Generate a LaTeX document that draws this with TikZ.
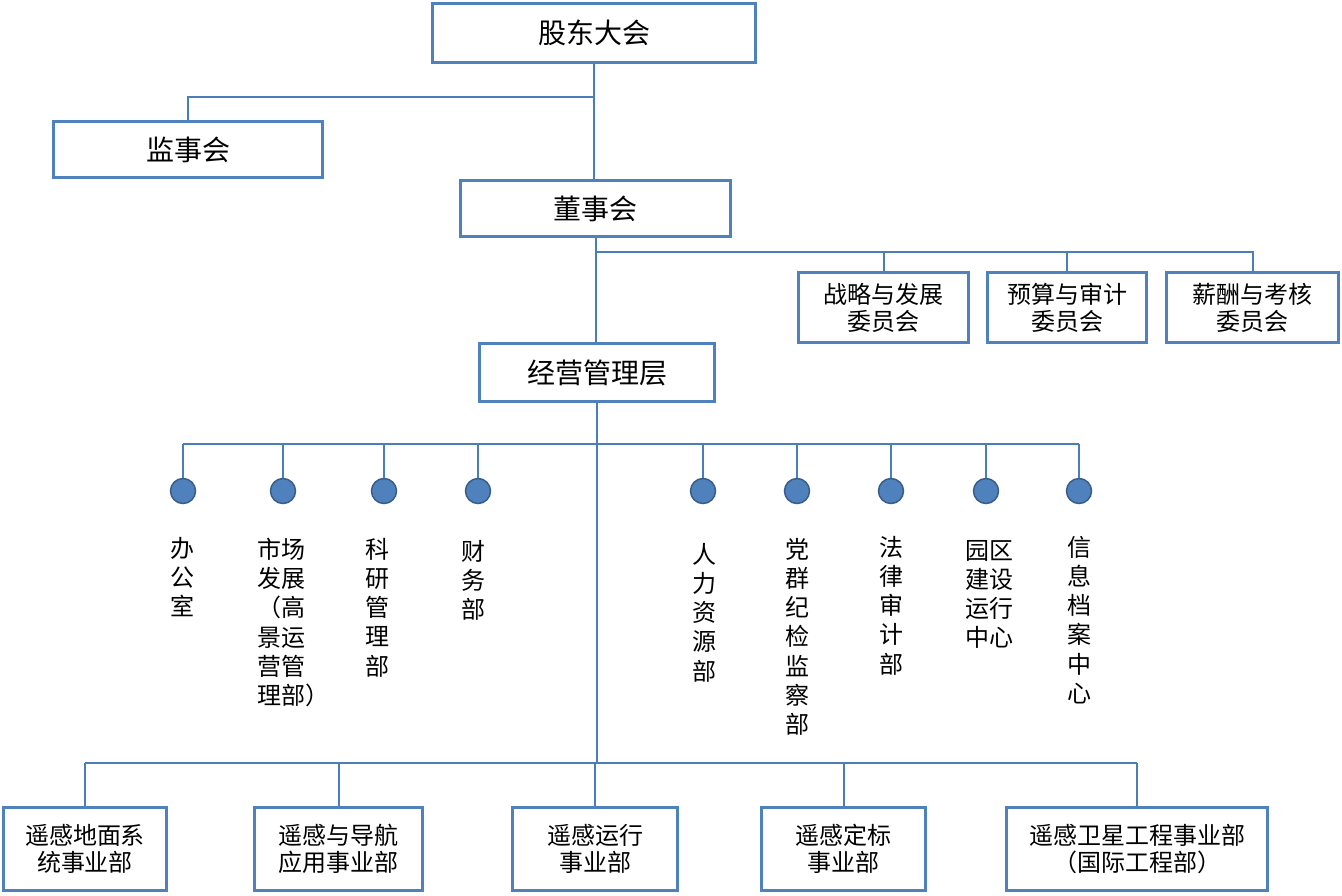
\documentclass[tikz,border=0pt]{standalone}
\usepackage{fontspec}
\setmainfont{Noto Sans CJK SC}
\definecolor{boxblue}{RGB}{79,129,189}
\definecolor{lineblue}{RGB}{74,126,187}
\definecolor{dotblue}{RGB}{79,129,189}
\definecolor{dotedge}{RGB}{56,93,138}
\begin{document}
\begin{tikzpicture}[x=1pt,y=-1pt,
  box/.style={draw=boxblue, line width=3.5pt, fill=white, inner sep=0pt, align=center},
  big/.style={font=\fontsize{28}{32}\selectfont},
  mid/.style={font=\fontsize{24}{27}\selectfont},
  vt/.style={inner sep=0pt, font=\fontsize{24}{29.2}\selectfont},
  dot/.style={circle, fill=dotblue, draw=dotedge, line width=1.5pt, minimum size=25pt, inner sep=0pt},
  link/.style={draw=lineblue, line width=2pt}]
\useasboundingbox (0,0) rectangle (1342,895);

% top level boxes
\node[box,big,minimum width=323pt,minimum height=59pt] (gd) at (594,33) {股东大会};
\node[box,big,minimum width=269pt,minimum height=56pt] (jsh) at (188,149.5) {监事会};
\node[box,big,minimum width=270pt,minimum height=56pt] (ds) at (595.5,208.5) {董事会};
\node[box,mid,minimum width=170pt,minimum height=70pt] (c1) at (883.5,307.5) {战略与发展\\委员会};
\node[box,mid,minimum width=159pt,minimum height=70pt] (c2) at (1067,307.5) {预算与审计\\委员会};
\node[box,mid,minimum width=172pt,minimum height=70pt] (c3) at (1252.5,307.5) {薪酬与考核\\委员会};
\node[box,big,minimum width=235pt,minimum height=58pt] (jy) at (597,372.5) {经营管理层};

% bottom boxes
\node[box,mid,minimum width=163pt,minimum height=83pt] (u1) at (85,849) {遥感地面系\\统事业部};
\node[box,mid,minimum width=168pt,minimum height=83pt] (u2) at (338.5,849) {遥感与导航\\应用事业部};
\node[box,mid,minimum width=165pt,minimum height=83pt] (u3) at (595,849) {遥感运行\\事业部};
\node[box,mid,minimum width=164pt,minimum height=83pt] (u4) at (843.5,849) {遥感定标\\事业部};
\node[box,mid,minimum width=261pt,minimum height=83pt] (u5) at (1137,849) {遥感卫星工程事业部\\（国际工程部）};

% department dots
\node[dot] (d1) at (183,491) {};
\node[dot] (d2) at (283,491) {};
\node[dot] (d3) at (384,491) {};
\node[dot] (d4) at (478,491) {};
\node[dot] (d5) at (703,491) {};
\node[dot] (d6) at (797,491) {};
\node[dot] (d7) at (891,491) {};
\node[dot] (d8) at (986,491) {};
\node[dot] (d9) at (1079,491) {};

% department labels
\node[vt,anchor=north,align=center] (v1) at (182,537) {办\\公\\室};
\node[vt,anchor=north west,align=left] (v2) at (257,538) {市场\\发展\\（高\\景运\\营管\\理部）};
\node[vt,anchor=north,align=center] (v3) at (377,538) {科\\研\\管\\理\\部};
\node[vt,anchor=north,align=center] (v4) at (473,540) {财\\务\\部};
\node[vt,anchor=north,align=center] (v5) at (704,543) {人\\力\\资\\源\\部};
\node[vt,anchor=north,align=center] (v6) at (797,538) {党\\群\\纪\\检\\监\\察\\部};
\node[vt,anchor=north,align=center] (v7) at (891,536) {法\\律\\审\\计\\部};
\node[vt,anchor=north west,align=left] (v8) at (965,540) {园区\\建设\\运行\\中心};
\node[vt,anchor=north,align=center] (v9) at (1079,536) {信\\息\\档\\案\\中\\心};

% junction coordinates
\coordinate (j1) at (594,97);
\coordinate (j2) at (596,252);
\coordinate (j3) at (597,444);
\coordinate (j4) at (597,763);

% connectors
\draw[link] (gd.south) -- (gd.south |- ds.north);
\draw[link] (j1) -| (jsh.north);
\draw[link] (ds.south) -- (ds.south |- jy.north);
\draw[link] (j2) -| (c1.north);
\draw[link] (j2) -| (c2.north);
\draw[link] (j2) -| (c3.north);
\draw[link] (jy.south) -- (jy.south |- j4);
\draw[link] (d1.north |- j3) -- (d9.north |- j3);
\foreach \d in {d1,d2,d3,d4,d5,d6,d7,d8,d9}{
  \draw[link] (\d.north |- j3) -- (\d.north);
}
\draw[link] (u1.north |- j4) -- (u5.north |- j4);
\foreach \u in {u1,u2,u3,u4,u5}{
  \draw[link] (\u.north |- j4) -- (\u.north);
}
\end{tikzpicture}
\end{document}
